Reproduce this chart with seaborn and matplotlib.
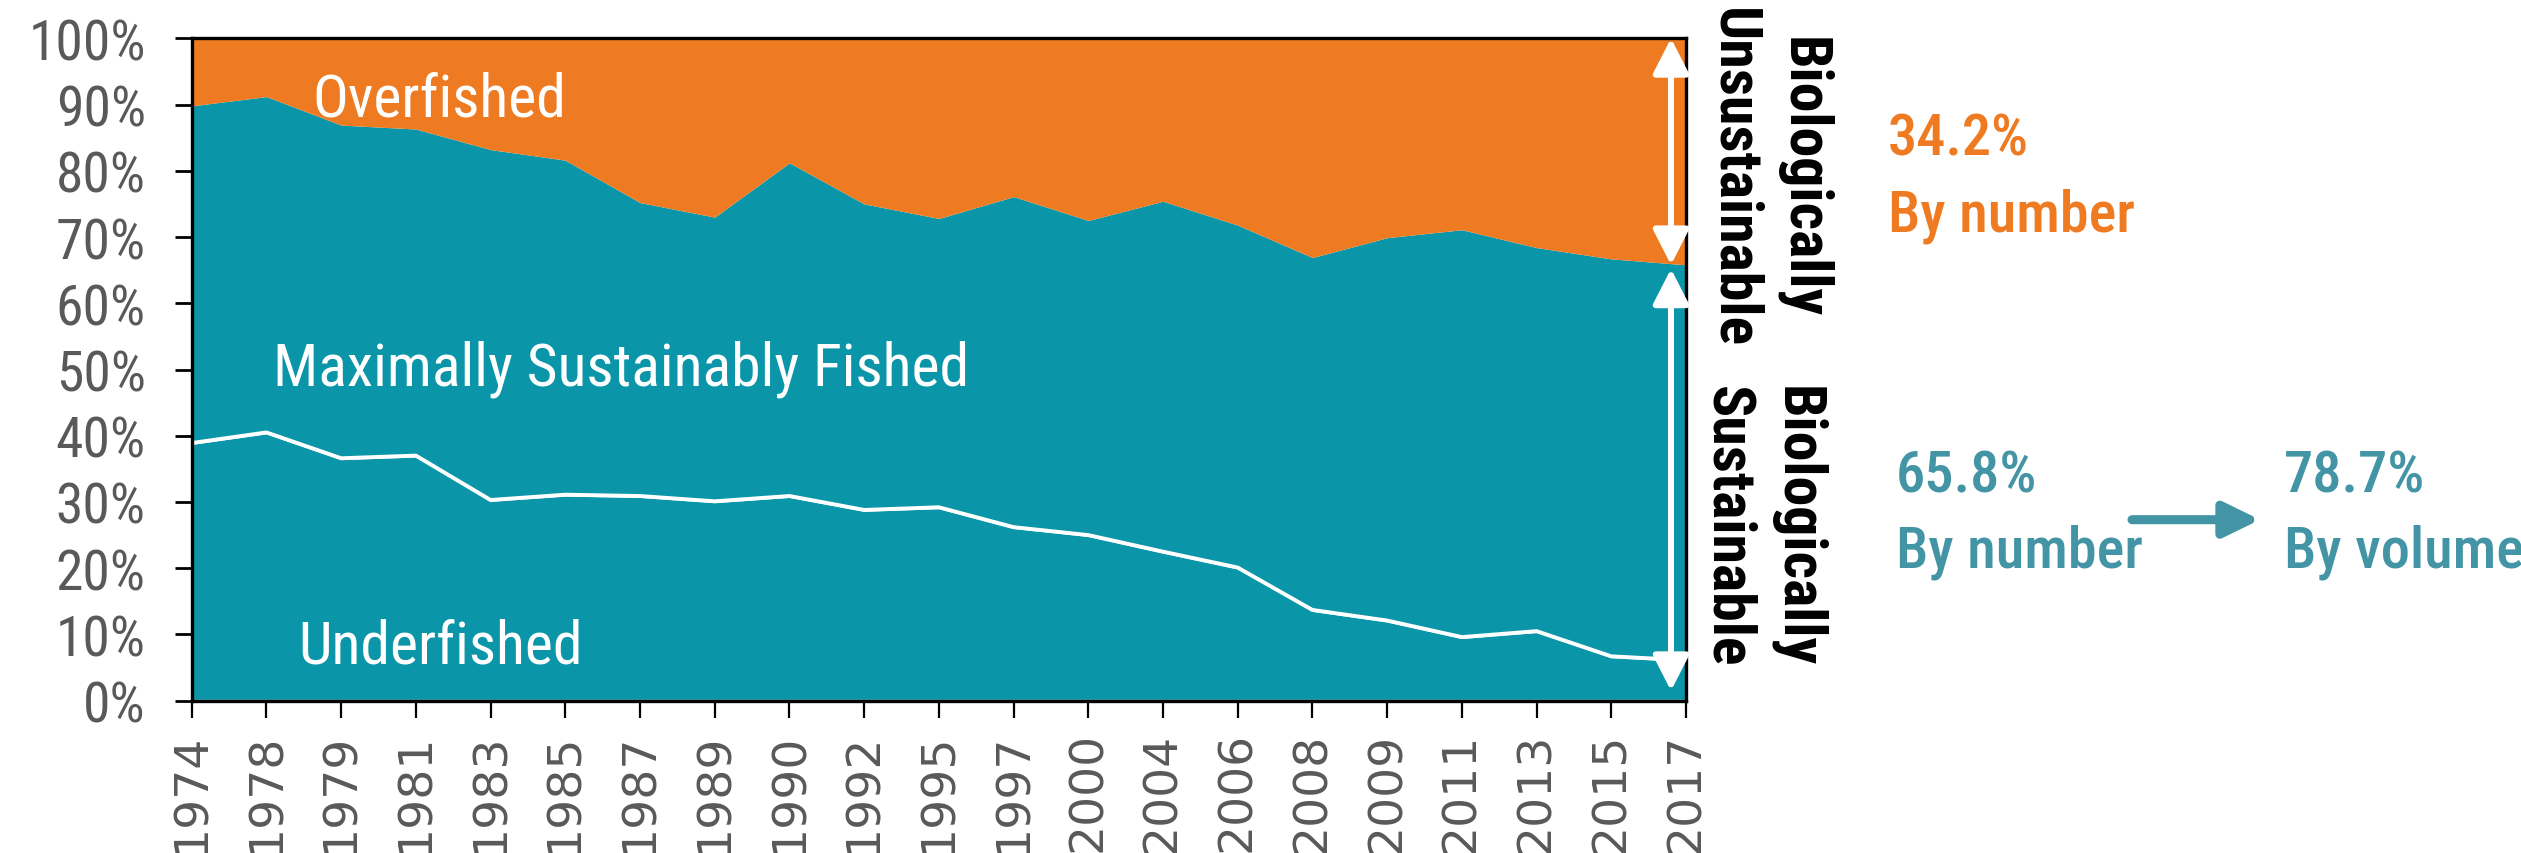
import matplotlib
matplotlib.use("Agg")
import matplotlib.pyplot as plt
import seaborn as sns
import numpy as np
import pandas as pd
from matplotlib import font_manager as fm

# ---------------- data ----------------
years = ["1974", "1978", "1979", "1981", "1983", "1985", "1987", "1989", "1990", "1992",
         "1995", "1997", "2000", "2004", "2006", "2008", "2009", "2011", "2013", "2015", "2017"]
underfished = [38.9, 40.5, 36.6, 37.0, 30.3, 31.1, 30.9, 30.1, 30.9, 28.8,
               29.2, 26.2, 25.0, 22.5, 20.1, 13.7, 12.1, 9.6, 10.5, 6.7, 6.1]
max_sustainably_fished = [50.9, 50.7, 50.3, 49.3, 52.9, 50.5, 44.3, 42.9, 50.3, 46.2,
                          43.6, 49.9, 47.5, 52.9, 51.7, 53.2, 57.8, 61.5, 57.9, 60.0, 59.7]
overfished = [10.2, 8.8, 13.1, 13.7, 16.8, 18.4, 24.8, 27.0, 18.8, 25.0,
              27.2, 23.9, 27.5, 24.6, 28.2, 33.1, 30.1, 28.9, 31.6, 33.3, 34.2]
yticks = [0, 10, 20, 30, 40, 50, 60, 70, 80, 90, 100]
ytick_labels = ["0%", "10%", "20%", "30%", "40%", "50%", "60%", "70%", "80%", "90%", "100%"]
unsustainable_pct = "34.2%"
sustainable_pct = "65.8%"
sustainable_volume_pct = "78.7%"

# ---------------- style ----------------
ORANGE = "#EE7B21"
TEAL = "#0A96A8"
TEAL_TXT = "#4394A5"
GRAY = "#595959"

sns.set_theme(style="white")
plt.rcParams["font.family"] = ["DejaVu Sans"]


def wnum(w):
    if isinstance(w, str):
        return fm.weight_dict.get(w, 400)
    return int(w)


def find_condensed(target, lo, hi):
    pref = ["liberation sans narrow", "roboto condensed", "noto sans", "dejavu sans",
            "open sans", "liberation sans"]
    best = None
    for f in fm.fontManager.ttflist:
        key = (f.name + " " + f.fname.split("/")[-1]).lower()
        cond = ("condensed" in key or "narrow" in key or
                str(f.stretch) in ("condensed", "semi-condensed"))
        if not cond or "extra" in key or "ultra" in key:
            continue
        if f.style != "normal" or "italic" in key or "oblique" in key:
            continue
        w = wnum(f.weight)
        if w < lo or w > hi:
            continue
        rank = len(pref)
        for i, p in enumerate(pref):
            if f.name.lower().startswith(p):
                rank = i
                break
        if "semi" in key:
            rank += 0.5
        cand = (rank, abs(w - target), f.fname)
        if best is None or cand < best:
            best = cand
    return best[2] if best else None


REG = find_condensed(400, 350, 500)
BLD = find_condensed(700, 600, 800)
MED = find_condensed(500, 480, 560) or REG


def fp_file(path, size, weight="normal"):
    if path:
        return fm.FontProperties(fname=path, size=size)
    return fm.FontProperties(family="Liberation Sans", weight=weight, size=size * 0.82)


def fp_reg(size):
    return fp_file(REG, size)


def fp_bold(size):
    return fp_file(BLD, size, "bold")


def fp_med(size):
    return fp_file(MED, size)


W, H = 2521, 854
fig = plt.figure(figsize=(W / 100, H / 100), dpi=100)
ax = fig.add_axes([191.7 / W, 1 - 701.7 / H, (1686 - 191.7) / W, (701.7 - 39.3) / H])

df = pd.DataFrame({"year": years, "x": np.arange(len(years)),
                   "under": underfished, "msf": max_sustainably_fished, "over": overfished})

polys = ax.stackplot(df["x"], df["under"], df["msf"], df["over"],
                     colors=[TEAL, TEAL, ORANGE], linewidth=0)
polys[0].set_edgecolor("white")
polys[0].set_linewidth(2.0)
polys[0].set_zorder(3)
polys[1].set_zorder(2)
polys[2].set_zorder(2)

sns.lineplot(data=df, x="x", y="under", color="white", linewidth=2.8, ax=ax, zorder=4)

ax.set_xlim(0, len(years) - 1)
ax.set_ylim(0, 100)
ax.set_xticks(df["x"])
ax.set_xticklabels(years, rotation=90, fontsize=34, color=GRAY, family="DejaVu Sans")
ax.set_yticks(yticks)
ax.set_yticklabels(ytick_labels, color=GRAY)
for t in ax.get_yticklabels():
    t.set_fontproperties(fp_reg(40))
ax.set_xlabel("")
ax.set_ylabel("")
ax.tick_params(axis="y", length=12, width=2, color="black", pad=21, direction="out", left=True)
ax.tick_params(axis="x", length=12, width=1.6, color="black", pad=10, direction="out", bottom=True)
for s in ax.spines.values():
    s.set_visible(True)
    s.set_color("black")
    s.set_linewidth(2.4)
    s.set_zorder(6)

# labels in the areas
ax.text(1.62, 88.4, "Overfished", color="white", fontproperties=fp_reg(43), va="baseline", ha="left", zorder=7)
ax.text(1.09, 47.8, "Maximally Sustainably Fished", color="white", fontproperties=fp_reg(43),
        va="baseline", ha="left", zorder=7)
ax.text(1.42, 5.8, "Underfished", color="white", fontproperties=fp_reg(43), va="baseline", ha="left", zorder=7)

# white double arrows at the right edge
xa = (1670.7 - 191.7) / 74.7
total_last = underfished[-1] + max_sustainably_fished[-1]
astyle = "<|-|>,head_length=2.15,head_width=1.1"
ax.annotate("", xy=(xa, 100), xytext=(xa, total_last), zorder=8,
            arrowprops=dict(arrowstyle=astyle, mutation_scale=10, color="white", lw=4.3,
                            shrinkA=0, shrinkB=0))
ax.annotate("", xy=(xa, total_last - 0.6), xytext=(xa, 1.5), zorder=8,
            arrowprops=dict(arrowstyle=astyle, mutation_scale=10, color="white", lw=4.3,
                            shrinkA=0, shrinkB=0))

# rotated side labels
fig.text(1768 / W, 1 - 178 / H, "Biologically\nUnsustainable", rotation=-90, ha="center", va="center",
         multialignment="center", fontproperties=fp_bold(43), color="black", linespacing=1.3)
fig.text(1762 / W, 1 - 527 / H, "Biologically\nSustainable", rotation=-90, ha="center", va="center",
         multialignment="center", fontproperties=fp_bold(43), color="black", linespacing=1.3)


# right-hand figures
def ftxt(x, y, s, c):
    fig.text(x / W, 1 - y / H, s, ha="left", va="baseline", fontproperties=fp_med(42), color=c)


ftxt(1888, 155, unsustainable_pct, ORANGE)
ftxt(1888, 232, "By number", ORANGE)
ftxt(1896, 493, sustainable_pct, TEAL_TXT)
ftxt(1896, 568, "By number", TEAL_TXT)
ftxt(2284, 493, sustainable_volume_pct, TEAL_TXT)
ftxt(2284, 568, "By volume", TEAL_TXT)

ax.annotate("", xy=(2260, H - 520.7), xytext=(2132, H - 520.7), xycoords="figure pixels",
            textcoords="figure pixels",
            arrowprops=dict(arrowstyle="-|>,head_length=2.15,head_width=1.05", mutation_scale=10,
                            color=TEAL_TXT, lw=6.5, shrinkA=0, shrinkB=0))

fig.savefig("out.png", dpi=100)
